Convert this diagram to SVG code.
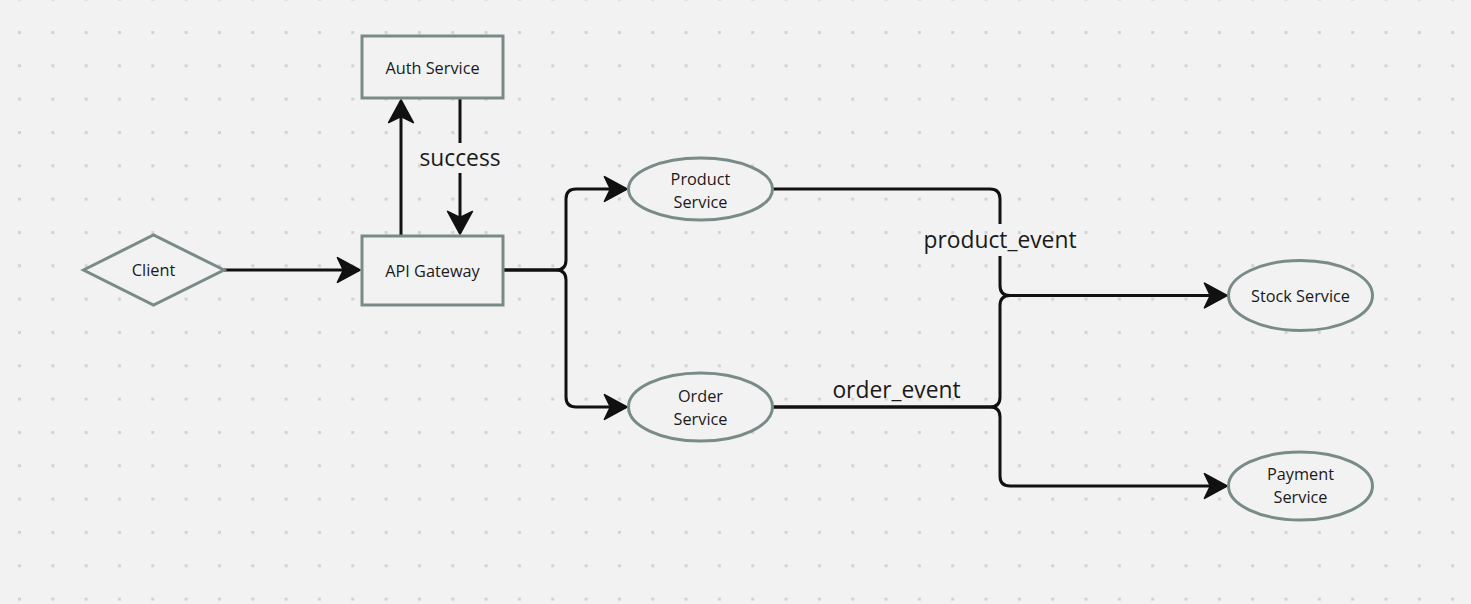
<svg xmlns="http://www.w3.org/2000/svg" width="1471" height="604" viewBox="0 0 1471 604">
  <defs>
    <pattern id="grid" patternUnits="userSpaceOnUse" x="18" y="31" width="33.33" height="33.33">
      <rect x="0" y="0" width="3" height="3" fill="#d3d3d3"/>
    </pattern>
    <marker id="arrow" markerUnits="userSpaceOnUse" markerWidth="26" markerHeight="28" viewBox="-22 -13 24 26" refX="0" refY="0" orient="auto">
      <path d="M1,0 L-20,-11.5 L-14.5,0 L-20,11.5 Z" fill="#111" stroke="#111" stroke-width="1.5" stroke-linejoin="round"/>
    </marker>
    <style>
      .node { fill: #f2f2f2; stroke: #798b89; stroke-width: 3; }
      .lbl { font-family: "Open Sans", "Noto Sans", sans-serif; font-size: 16.3px; fill: #1a1a1a; text-anchor: middle; }
      .elbl { font-family: "Open Sans", "Noto Sans", sans-serif; font-size: 22.8px; fill: #1a1a1a; text-anchor: middle; }
      .conn { fill: none; stroke: #111; stroke-width: 3; }
    </style>
  </defs>
  <rect width="1471" height="604" fill="#f2f2f2"/>
  <rect width="1471" height="604" fill="url(#grid)"/>

  <g id="connectors">
    <path class="conn" d="M224,270 L359,270" marker-end="url(#arrow)"/>
    <path class="conn" d="M401,235 L401,101" marker-end="url(#arrow)"/>
    <path class="conn" d="M460,99 L460,143 M460,173 L460,233" marker-end="url(#arrow)"/>
    <path class="conn" d="M504,270 L556,270 Q566,270 566,260 L566,199 Q566,189 576,189 L626,189" marker-end="url(#arrow)"/>
    <path class="conn" d="M504,270 L556,270 Q566,270 566,280 L566,397 Q566,407 576,407 L626,407" marker-end="url(#arrow)"/>
    <path class="conn" d="M772,189 L990,189 Q1000,189 1000,199 L1000,224 M1000,256 L1000,285.5 Q1000,295.5 1010,295.5 L1226,295.5" marker-end="url(#arrow)"/>
    <path class="conn" d="M772,407 L990,407 Q1000,407 1000,397 L1000,305.5 Q1000,295.5 1010,295.5 L1226,295.5"/>
    <path class="conn" d="M772,407 L990,407 Q1000,407 1000,417 L1000,476 Q1000,486 1010,486 L1226,486" marker-end="url(#arrow)"/>
    <text class="elbl" x="460" y="166">success</text>
    <text class="elbl" x="1000" y="247.5">product_event</text>
    <text class="elbl" x="896.5" y="397.5">order_event</text>
  </g>

  <g id="client">
    <polygon class="node" points="83.5,270 153.5,235 224,270 153.5,305"/>
    <text class="lbl" x="153.5" y="276">Client</text>
  </g>
  <g id="auth-service">
    <rect class="node" x="362" y="36" width="141" height="62"/>
    <text class="lbl" x="432.5" y="74">Auth Service</text>
  </g>
  <g id="api-gateway">
    <rect class="node" x="362" y="236" width="141" height="69"/>
    <text class="lbl" x="432.5" y="276.5">API Gateway</text>
  </g>
  <g id="product-service">
    <ellipse class="node" cx="700.5" cy="189" rx="72" ry="31"/>
    <text class="lbl" x="700.5" y="185">Product</text>
    <text class="lbl" x="700.5" y="208">Service</text>
  </g>
  <g id="order-service">
    <ellipse class="node" cx="700.5" cy="407" rx="72" ry="34"/>
    <text class="lbl" x="700.5" y="401.5">Order</text>
    <text class="lbl" x="700.5" y="425">Service</text>
  </g>
  <g id="stock-service">
    <ellipse class="node" cx="1300.5" cy="295.5" rx="72" ry="35"/>
    <text class="lbl" x="1300.5" y="301.5">Stock Service</text>
  </g>
  <g id="payment-service">
    <ellipse class="node" cx="1300.5" cy="486" rx="72" ry="34"/>
    <text class="lbl" x="1300.5" y="480">Payment</text>
    <text class="lbl" x="1300.5" y="503">Service</text>
  </g>
</svg>
